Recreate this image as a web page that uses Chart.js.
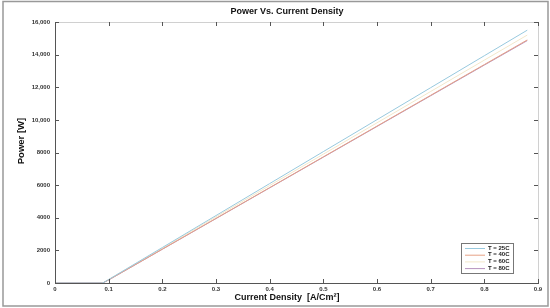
<!DOCTYPE html>
<html>
<head>
<meta charset="utf-8">
<script src="https://cdn.jsdelivr.net/npm/chart.js@4"></script>
<style>
  html, body { margin: 0; padding: 0; background: #fff; }
  #wrap { width: 550px; height: 308px; }
</style>
</head>
<body>
<div id="wrap"><canvas id="powerChart" width="550" height="308"></canvas></div>
<script>
const currentDensity = [0, 0.05, 0.089, 0.1, 0.2, 0.3, 0.4, 0.5, 0.6, 0.7, 0.8, 0.88];
const power25 = [0, 0, 0, 215, 2175, 4135, 6094, 8054, 10013, 11973, 13932, 15500];
const power40 = [0, 0, 0, 189, 2075, 3961, 5847, 7733, 9619, 11505, 13391, 14900];
const power60 = [0, 0, 0, 211, 2133, 4055, 5976, 7898, 9819, 11741, 13663, 15200];
const power80 = [0, 0, 0, 186, 2068, 3950, 5832, 7714, 9596, 11478, 13360, 14860];
const seriesLabels = ["T = 25C", "T = 40C", "T = 60C", "T = 80C"];
const seriesColors = ["#98c9de", "#e6a186", "#f3e8cb", "#b592be"];
const xTicks = [0, 0.1, 0.2, 0.3, 0.4, 0.5, 0.6, 0.7, 0.8, 0.9];
const yTicks = [0, 2000, 4000, 6000, 8000, 10000, 12000, 14000, 16000];

const chartTitle = "Power Vs. Current Density";
const xTitle = "Current Density  [A/Cm²]";
const yTitle = "Power [W]";

const font = "'Liberation Sans', Arial, sans-serif";

function toPoints(ys) {
  return currentDensity.map((x, i) => ({ x: x, y: ys[i] }));
}

// matlab style box: inward ticks, grey top/right edge, titles, legend, outer frame
const boxPlugin = {
  id: "box",
  afterDraw(chart) {
    const ctx = chart.ctx;
    const a = chart.chartArea;
    const xs = chart.scales.x;
    const ys = chart.scales.y;
    ctx.save();
    ctx.strokeStyle = "#d0d0d0";
    ctx.lineWidth = 1;
    ctx.beginPath();
    ctx.moveTo(a.left, a.top + 0.5);
    ctx.lineTo(a.right + 0.5, a.top + 0.5);
    ctx.lineTo(a.right + 0.5, a.bottom);
    ctx.stroke();
    ctx.strokeStyle = "#555";
    ctx.beginPath();
    xTicks.forEach(v => {
      const px = Math.round(xs.getPixelForValue(v)) + 0.5;
      ctx.moveTo(px, a.bottom); ctx.lineTo(px, a.bottom - 4);
      ctx.moveTo(px, a.top); ctx.lineTo(px, a.top + 4);
    });
    yTicks.forEach(v => {
      const py = Math.round(ys.getPixelForValue(v)) + 0.5;
      ctx.moveTo(a.left, py); ctx.lineTo(a.left + 4, py);
      ctx.moveTo(a.right, py); ctx.lineTo(a.right - 4, py);
    });
    ctx.stroke();

    // titles
    ctx.fillStyle = "#111";
    ctx.textAlign = "center";
    ctx.textBaseline = "middle";
    ctx.font = "bold 9px " + font;
    ctx.fillText(chartTitle, 287, 12);
    ctx.fillText(xTitle, 287, 298);
    ctx.save();
    ctx.translate(21, 141);
    ctx.rotate(-Math.PI / 2);
    ctx.font = "bold 9.5px " + font;
    ctx.fillText(yTitle, 0, 0);
    ctx.restore();

    // legend
    const lx = 461, ly = 243, lw = 52, lh = 30;
    ctx.fillStyle = "#fff";
    ctx.fillRect(lx, ly, lw, lh);
    ctx.strokeStyle = "#777";
    ctx.strokeRect(lx + 0.5, ly + 0.5, lw, lh);
    ctx.font = "bold 6px " + font;
    ctx.textAlign = "left";
    chart.data.datasets.forEach((ds, i) => {
      const yy = ly + 5 + i * 6.7;
      ctx.strokeStyle = ds.borderColor;
      ctx.beginPath();
      ctx.moveTo(lx + 4, yy + 0.5);
      ctx.lineTo(lx + 24, yy + 0.5);
      ctx.stroke();
      ctx.fillStyle = "#222";
      ctx.fillText(ds.label, lx + 27, yy);
    });

    // outer frame
    ctx.strokeStyle = "#999";
    ctx.lineWidth = 1.5;
    ctx.strokeRect(3, 1.5, 545, 304.5);
    ctx.restore();
  }
};

const ctx = document.getElementById("powerChart").getContext("2d");
const powerChart = new Chart(ctx, {
  type: "line",
  data: {
    datasets: [power25, power40, power60, power80].map((ys, i) => ({
      label: seriesLabels[i],
      data: toPoints(ys),
      borderColor: seriesColors[i],
      borderWidth: 1,
      pointRadius: 0,
      tension: 0,
      fill: false,
      order: [0, 1, 3, 2][i],
    })),
  },
  options: {
    responsive: false,
    animation: false,
    layout: { padding: { top: 22, right: 12, bottom: 0, left: 10 } },
    plugins: {
      legend: { display: false },
      tooltip: { enabled: false },
    },
    scales: {
      x: {
        type: "linear",
        min: 0,
        max: 0.9,
        afterBuildTicks: s => { s.ticks = xTicks.map(v => ({ value: v })); },
        ticks: {
          color: "#333",
          font: { family: font, size: 6, weight: "bold" },
          padding: 3,
          maxRotation: 0,
          callback: v => String(Math.round(v * 10) / 10),
        },
        grid: { display: false, drawTicks: false },
        border: { display: true, color: "#555", width: 1 },
        afterFit: s => { s.height = 25; },
      },
      y: {
        type: "linear",
        min: 0,
        max: 16000,
        afterBuildTicks: s => { s.ticks = yTicks.map(v => ({ value: v })); },
        ticks: {
          color: "#333",
          font: { family: font, size: 6, weight: "bold" },
          padding: 5,
          callback: v => v >= 10000 ? v.toLocaleString("en-US") : String(v),
        },
        grid: { display: false, drawTicks: false },
        border: { display: true, color: "#555", width: 1 },
        afterFit: s => { s.width = 45; },
      },
    },
  },
  plugins: [boxPlugin],
});
</script>
</body>
</html>
